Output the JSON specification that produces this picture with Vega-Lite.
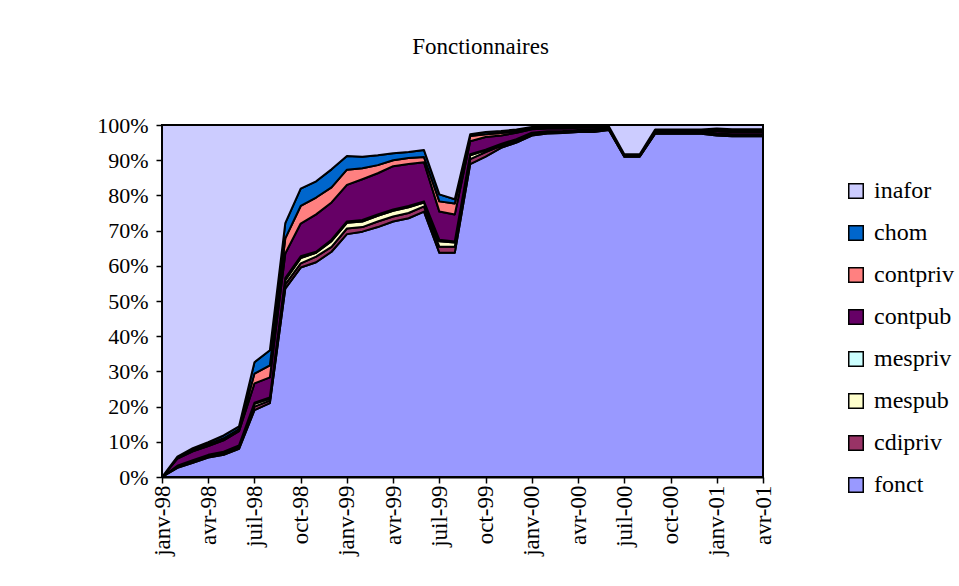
{
  "$schema": "https://vega.github.io/schema/vega-lite/v6.json",
  "width": 601,
  "height": 352,
  "autosize": "none",
  "padding": {"left": 162, "top": 125, "right": 196, "bottom": 109},
  "background": "white",
  "title": {"text": "Fonctionnaires", "font": "Liberation Serif", "fontSize": 23, "fontWeight": "normal", "color": "black", "anchor": "middle", "baseline": "middle", "offset": 44, "dx": 18},
  "datasets": {
    "ordre": [
      {"key": "fonct", "k": 0}, {"key": "cdipriv", "k": 1}, {"key": "mespub", "k": 2}, {"key": "mespriv", "k": 3},
      {"key": "contpub", "k": 4}, {"key": "contpriv", "k": 5}, {"key": "chom", "k": 6}, {"key": "inafor", "k": 7}
    ]
  },
  "data": {"values": [
    {"m": "janv-98", "fonct": 0, "cdipriv": 0, "mespub": 0, "mespriv": 0, "contpub": 0, "contpriv": 0, "chom": 0, "inafor": 100},
    {"m": "févr-98", "fonct": 2.6, "cdipriv": 0.3, "mespub": 0.2, "mespriv": 0.1, "contpub": 2.0, "contpriv": 0.3, "chom": 0.3, "inafor": 94.2},
    {"m": "mars-98", "fonct": 4.0, "cdipriv": 0.4, "mespub": 0.3, "mespriv": 0.1, "contpub": 2.5, "contpriv": 0.4, "chom": 0.5, "inafor": 91.8},
    {"m": "avr-98", "fonct": 5.5, "cdipriv": 0.4, "mespub": 0.3, "mespriv": 0.1, "contpub": 2.5, "contpriv": 0.5, "chom": 0.6, "inafor": 90.1},
    {"m": "mai-98", "fonct": 6.3, "cdipriv": 0.5, "mespub": 0.3, "mespriv": 0.1, "contpub": 3.2, "contpriv": 0.6, "chom": 0.8, "inafor": 88.2},
    {"m": "juin-98", "fonct": 8.0, "cdipriv": 0.5, "mespub": 0.4, "mespriv": 0.1, "contpub": 4.0, "contpriv": 0.6, "chom": 0.8, "inafor": 85.6},
    {"m": "juil-98", "fonct": 19.0, "cdipriv": 1.0, "mespub": 0.8, "mespriv": 0.3, "contpub": 5.5, "contpriv": 2.8, "chom": 3.2, "inafor": 67.4},
    {"m": "août-98", "fonct": 21.0, "cdipriv": 0.7, "mespub": 0.6, "mespriv": 0.3, "contpub": 5.7, "contpriv": 3.4, "chom": 4.3, "inafor": 64.0},
    {"m": "sept-98", "fonct": 53.5, "cdipriv": 1.2, "mespub": 1.2, "mespriv": 0.6, "contpub": 7.0, "contpriv": 4.3, "chom": 4.3, "inafor": 27.9},
    {"m": "oct-98", "fonct": 59.5, "cdipriv": 1.2, "mespub": 1.5, "mespriv": 0.5, "contpub": 9.3, "contpriv": 5.0, "chom": 4.9, "inafor": 18.1},
    {"m": "nov-98", "fonct": 61.0, "cdipriv": 1.6, "mespub": 1.1, "mespriv": 0.3, "contpub": 10.6, "contpriv": 4.8, "chom": 4.6, "inafor": 16.0},
    {"m": "déc-98", "fonct": 64.0, "cdipriv": 1.4, "mespub": 1.6, "mespriv": 0.4, "contpub": 10.6, "contpriv": 4.3, "chom": 5.1, "inafor": 12.6},
    {"m": "janv-99", "fonct": 69.0, "cdipriv": 1.6, "mespub": 1.6, "mespriv": 0.4, "contpub": 10.4, "contpriv": 4.3, "chom": 3.9, "inafor": 8.8},
    {"m": "févr-99", "fonct": 69.7, "cdipriv": 1.3, "mespub": 1.6, "mespriv": 0.4, "contpub": 11.6, "contpriv": 3.1, "chom": 3.3, "inafor": 9.0},
    {"m": "mars-99", "fonct": 71.0, "cdipriv": 1.6, "mespub": 1.6, "mespriv": 0.4, "contpub": 11.7, "contpriv": 2.3, "chom": 2.8, "inafor": 8.6},
    {"m": "avr-99", "fonct": 72.6, "cdipriv": 1.4, "mespub": 1.6, "mespriv": 0.4, "contpub": 12.3, "contpriv": 1.7, "chom": 2.0, "inafor": 8.0},
    {"m": "mai-99", "fonct": 73.5, "cdipriv": 1.5, "mespub": 1.6, "mespriv": 0.4, "contpub": 11.9, "contpriv": 1.7, "chom": 1.7, "inafor": 7.7},
    {"m": "juin-99", "fonct": 75.4, "cdipriv": 1.5, "mespub": 1.1, "mespriv": 0.3, "contpub": 11.1, "contpriv": 1.5, "chom": 2.0, "inafor": 7.1},
    {"m": "juil-99", "fonct": 63.7, "cdipriv": 1.7, "mespub": 1.6, "mespriv": 0.4, "contpub": 8.0, "contpriv": 2.9, "chom": 2.0, "inafor": 19.7},
    {"m": "août-99", "fonct": 63.7, "cdipriv": 1.7, "mespub": 1.2, "mespriv": 0.3, "contpub": 7.7, "contpriv": 3.1, "chom": 1.2, "inafor": 21.1},
    {"m": "sept-99", "fonct": 88.9, "cdipriv": 1.4, "mespub": 1.1, "mespriv": 0.3, "contpub": 3.7, "contpriv": 1.5, "chom": 0.5, "inafor": 2.6},
    {"m": "oct-99", "fonct": 91.0, "cdipriv": 1.3, "mespub": 0.5, "mespriv": 0.2, "contpub": 3.6, "contpriv": 0.8, "chom": 0.6, "inafor": 2.0},
    {"m": "nov-99", "fonct": 93.5, "cdipriv": 0.6, "mespub": 0.4, "mespriv": 0.1, "contpub": 2.4, "contpriv": 0.7, "chom": 0.6, "inafor": 1.7},
    {"m": "déc-99", "fonct": 95.0, "cdipriv": 0.5, "mespub": 0.4, "mespriv": 0.1, "contpub": 1.8, "contpriv": 0.5, "chom": 0.4, "inafor": 1.3},
    {"m": "janv-00", "fonct": 97.0, "cdipriv": 0.4, "mespub": 0.3, "mespriv": 0.1, "contpub": 1.0, "contpriv": 0.3, "chom": 0.3, "inafor": 0.6},
    {"m": "févr-00", "fonct": 97.6, "cdipriv": 0.3, "mespub": 0.2, "mespriv": 0.1, "contpub": 0.8, "contpriv": 0.2, "chom": 0.2, "inafor": 0.6},
    {"m": "mars-00", "fonct": 97.7, "cdipriv": 0.3, "mespub": 0.2, "mespriv": 0.1, "contpub": 0.7, "contpriv": 0.2, "chom": 0.2, "inafor": 0.6},
    {"m": "avr-00", "fonct": 98.0, "cdipriv": 0.3, "mespub": 0.2, "mespriv": 0.1, "contpub": 0.6, "contpriv": 0.2, "chom": 0.2, "inafor": 0.4},
    {"m": "mai-00", "fonct": 98.0, "cdipriv": 0.3, "mespub": 0.2, "mespriv": 0.1, "contpub": 0.6, "contpriv": 0.2, "chom": 0.2, "inafor": 0.4},
    {"m": "juin-00", "fonct": 98.6, "cdipriv": 0.2, "mespub": 0.1, "mespriv": 0.1, "contpub": 0.4, "contpriv": 0.1, "chom": 0.1, "inafor": 0.4},
    {"m": "juil-00", "fonct": 91.0, "cdipriv": 0.1, "mespub": 0.1, "mespriv": 0.1, "contpub": 0.2, "contpriv": 0.1, "chom": 0.1, "inafor": 8.3},
    {"m": "août-00", "fonct": 91.0, "cdipriv": 0.1, "mespub": 0.1, "mespriv": 0.1, "contpub": 0.2, "contpriv": 0.1, "chom": 0.1, "inafor": 8.3},
    {"m": "sept-00", "fonct": 97.5, "cdipriv": 0.2, "mespub": 0.1, "mespriv": 0.1, "contpub": 0.4, "contpriv": 0.1, "chom": 0.3, "inafor": 1.3},
    {"m": "oct-00", "fonct": 97.5, "cdipriv": 0.2, "mespub": 0.1, "mespriv": 0.1, "contpub": 0.4, "contpriv": 0.1, "chom": 0.3, "inafor": 1.3},
    {"m": "nov-00", "fonct": 97.5, "cdipriv": 0.2, "mespub": 0.1, "mespriv": 0.1, "contpub": 0.4, "contpriv": 0.1, "chom": 0.3, "inafor": 1.3},
    {"m": "déc-00", "fonct": 97.5, "cdipriv": 0.2, "mespub": 0.1, "mespriv": 0.1, "contpub": 0.4, "contpriv": 0.1, "chom": 0.3, "inafor": 1.3},
    {"m": "janv-01", "fonct": 97.0, "cdipriv": 0.3, "mespub": 0.2, "mespriv": 0.1, "contpub": 0.6, "contpriv": 0.3, "chom": 0.5, "inafor": 1.0},
    {"m": "févr-01", "fonct": 96.8, "cdipriv": 0.3, "mespub": 0.2, "mespriv": 0.1, "contpub": 0.6, "contpriv": 0.3, "chom": 0.5, "inafor": 1.2},
    {"m": "mars-01", "fonct": 96.8, "cdipriv": 0.3, "mespub": 0.2, "mespriv": 0.1, "contpub": 0.6, "contpriv": 0.3, "chom": 0.5, "inafor": 1.2},
    {"m": "avr-01", "fonct": 96.8, "cdipriv": 0.3, "mespub": 0.2, "mespriv": 0.1, "contpub": 0.6, "contpriv": 0.3, "chom": 0.5, "inafor": 1.2}
  ]},
  "transform": [
    {"fold": ["fonct", "cdipriv", "mespub", "mespriv", "contpub", "contpriv", "chom", "inafor"]},
    {"lookup": "key", "from": {"data": {"name": "ordre"}, "key": "key", "fields": ["k"]}}
  ],
  "mark": {"type": "area", "stroke": "black", "strokeWidth": 2, "strokeJoin": "round", "interpolate": "linear"},
  "encoding": {
    "x": {
      "field": "m", "type": "ordinal", "sort": null,
      "scale": {"type": "point", "padding": 0},
      "axis": {
        "title": null,
        "values": ["janv-98", "avr-98", "juil-98", "oct-98", "janv-99", "avr-99", "juil-99", "oct-99", "janv-00", "avr-00", "juil-00", "oct-00", "janv-01", "avr-01"],
        "labelAngle": -90, "labelPadding": 2, "tickSize": 6, "labelFontSize": 23
      }
    },
    "y": {
      "field": "value", "type": "quantitative", "stack": "normalize",
      "scale": {"domain": [0, 1], "nice": false},
      "axis": {"title": null, "values": [0, 0.1, 0.2, 0.3, 0.4, 0.5, 0.6, 0.7, 0.8, 0.9, 1], "format": ".0%", "grid": false, "tickSize": 6, "labelPadding": 8}
    },
    "color": {
      "field": "key", "type": "nominal",
      "scale": {
        "domain": ["inafor", "chom", "contpriv", "contpub", "mespriv", "mespub", "cdipriv", "fonct"],
        "range": ["#CCCCFF", "#0066CC", "#FF8080", "#660066", "#CCFFFF", "#FFFFCC", "#993366", "#9999FF"]
      },
      "legend": {
        "title": null, "orient": "none", "legendX": 682, "legendY": 54,
        "symbolType": "square", "symbolSize": 210, "symbolStrokeColor": "black", "symbolStrokeWidth": 1.5,
        "symbolOpacity": 1, "labelOffset": 6, "rowPadding": 18, "labelFontSize": 24
      }
    },
    "order": {"field": "k", "type": "quantitative"}
  },
  "config": {
    "view": {"stroke": "black", "strokeWidth": 2, "fill": "#C0C0C0"},
    "axis": {
      "labelFont": "Liberation Serif", "labelFontSize": 22, "labelColor": "black",
      "domainColor": "black", "domainWidth": 2, "tickColor": "black", "tickWidth": 1.5
    },
    "legend": {"labelFont": "Liberation Serif", "labelFontSize": 24, "labelColor": "black"}
  }
}
